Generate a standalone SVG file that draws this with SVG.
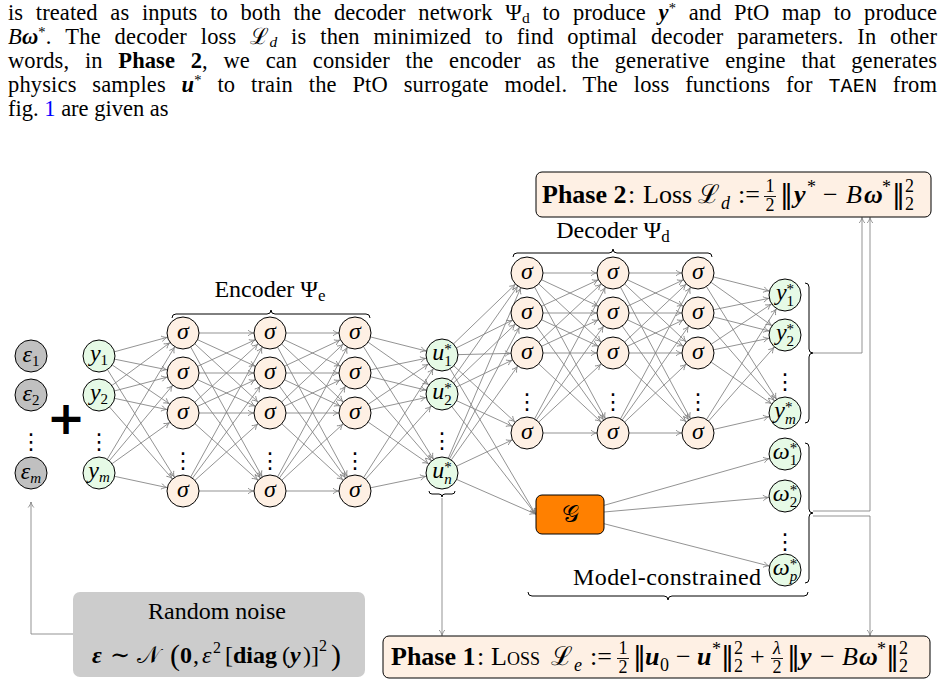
<svg xmlns="http://www.w3.org/2000/svg" width="945" height="685" viewBox="0 0 945 685">
<style>
.t{font-family:"Liberation Serif","DejaVu Serif",serif;fill:#000}
.i{font-style:italic}
.b{font-weight:bold}
.bi{font-weight:bold;font-style:italic}
.s{font-size:15px}
.nm{font-family:"DejaVu Sans",sans-serif;font-style:normal;font-weight:normal}
.lab{font-family:"Liberation Serif","DejaVu Serif",serif;font-size:24px;text-anchor:middle}
.dots{font-family:"DejaVu Sans",sans-serif;font-size:22px;text-anchor:middle}
.nd circle{stroke:#000;stroke-width:1}
.peach{fill:#FEF0E4}
.green{fill:#E6FAE6}
.grey{fill:#C0C0C0}
.brace{fill:none;stroke:#000;stroke-width:1}
.bx{stroke:#000;stroke-width:1}
</style>
<defs>
<marker id="ah" markerUnits="userSpaceOnUse" markerWidth="8" markerHeight="8" refX="16.5" refY="0" orient="auto" overflow="visible">
<path d="M-5.5,-2.8 C-3.6,-1.2 -1.6,-0.3 0,0 C-1.6,0.3 -3.6,1.2 -5.5,2.8" fill="none" stroke="#808080" stroke-width="0.85"/>
</marker>
<marker id="a0" markerUnits="userSpaceOnUse" markerWidth="8" markerHeight="8" refX="0" refY="0" orient="auto" overflow="visible">
<path d="M-5.5,-2.8 C-3.6,-1.2 -1.6,-0.3 0,0 C-1.6,0.3 -3.6,1.2 -5.5,2.8" fill="none" stroke="#808080" stroke-width="0.85"/>
</marker>
</defs>
<rect width="945" height="685" fill="#fff"/>

<g id="paragraph" class="t" font-size="22.5">
<text x="8" y="20" word-spacing="7" textLength="929" lengthAdjust="spacing">is treated as inputs to both the decoder network Ψ<tspan font-size="15.5" dy="3">d</tspan><tspan dy="-3"> to produce </tspan><tspan class="bi">y</tspan><tspan font-size="14.5" dy="-7">*</tspan><tspan dy="7"> and PtO map to produce</tspan></text>
<text x="8" y="44" word-spacing="8" textLength="929" lengthAdjust="spacing"><tspan class="i">B</tspan><tspan class="bi">ω</tspan><tspan font-size="14.5" dy="-7">*</tspan><tspan dy="7">. The decoder loss </tspan><tspan>ℒ</tspan><tspan class="i" font-size="15.5" dy="3">d</tspan><tspan dy="-3"> is then minimized to find optimal decoder parameters. In other</tspan></text>
<text x="8" y="68" word-spacing="10" textLength="929" lengthAdjust="spacing">words, in <tspan class="b">Phase 2</tspan>, we can consider the encoder as the generative engine that generates</text>
<text x="8" y="92" word-spacing="10" textLength="929" lengthAdjust="spacing">physics samples <tspan class="bi">u</tspan><tspan font-size="14.5" dy="-7">*</tspan><tspan dy="7"> to train the PtO surrogate model.  The loss functions for </tspan><tspan font-family="Liberation Mono,monospace" font-size="20">TAEN</tspan> from</text>
<text x="8" y="116">fig. <tspan fill="#0000FF">1</tspan> are given as</text>
</g>

<g id="connectors" fill="none" stroke="#808080" stroke-width="0.85">
<g marker-end="url(#ah)">
<line x1="99" y1="356" x2="183" y2="333"/><line x1="99" y1="356" x2="183" y2="373"/><line x1="99" y1="356" x2="183" y2="413"/><line x1="99" y1="356" x2="183" y2="491"/>
<line x1="99" y1="395" x2="183" y2="333"/><line x1="99" y1="395" x2="183" y2="373"/><line x1="99" y1="395" x2="183" y2="413"/><line x1="99" y1="395" x2="183" y2="491"/>
<line x1="99" y1="473" x2="183" y2="333"/><line x1="99" y1="473" x2="183" y2="373"/><line x1="99" y1="473" x2="183" y2="413"/><line x1="99" y1="473" x2="183" y2="491"/>

<line x1="183" y1="333" x2="270" y2="333"/><line x1="183" y1="333" x2="270" y2="373"/><line x1="183" y1="333" x2="270" y2="413"/><line x1="183" y1="333" x2="270" y2="491"/>
<line x1="183" y1="373" x2="270" y2="333"/><line x1="183" y1="373" x2="270" y2="373"/><line x1="183" y1="373" x2="270" y2="413"/><line x1="183" y1="373" x2="270" y2="491"/>
<line x1="183" y1="413" x2="270" y2="333"/><line x1="183" y1="413" x2="270" y2="373"/><line x1="183" y1="413" x2="270" y2="413"/><line x1="183" y1="413" x2="270" y2="491"/>
<line x1="183" y1="491" x2="270" y2="333"/><line x1="183" y1="491" x2="270" y2="373"/><line x1="183" y1="491" x2="270" y2="413"/><line x1="183" y1="491" x2="270" y2="491"/>

<line x1="270" y1="333" x2="355" y2="333"/><line x1="270" y1="333" x2="355" y2="373"/><line x1="270" y1="333" x2="355" y2="413"/><line x1="270" y1="333" x2="355" y2="491"/>
<line x1="270" y1="373" x2="355" y2="333"/><line x1="270" y1="373" x2="355" y2="373"/><line x1="270" y1="373" x2="355" y2="413"/><line x1="270" y1="373" x2="355" y2="491"/>
<line x1="270" y1="413" x2="355" y2="333"/><line x1="270" y1="413" x2="355" y2="373"/><line x1="270" y1="413" x2="355" y2="413"/><line x1="270" y1="413" x2="355" y2="491"/>
<line x1="270" y1="491" x2="355" y2="333"/><line x1="270" y1="491" x2="355" y2="373"/><line x1="270" y1="491" x2="355" y2="413"/><line x1="270" y1="491" x2="355" y2="491"/>

<line x1="355" y1="333" x2="442" y2="355"/><line x1="355" y1="333" x2="442" y2="394"/><line x1="355" y1="333" x2="442" y2="473"/>
<line x1="355" y1="373" x2="442" y2="355"/><line x1="355" y1="373" x2="442" y2="394"/><line x1="355" y1="373" x2="442" y2="473"/>
<line x1="355" y1="413" x2="442" y2="355"/><line x1="355" y1="413" x2="442" y2="394"/><line x1="355" y1="413" x2="442" y2="473"/>
<line x1="355" y1="491" x2="442" y2="355"/><line x1="355" y1="491" x2="442" y2="394"/><line x1="355" y1="491" x2="442" y2="473"/>

<line x1="442" y1="355" x2="527" y2="273"/><line x1="442" y1="355" x2="527" y2="313"/><line x1="442" y1="355" x2="527" y2="353"/><line x1="442" y1="355" x2="527" y2="433"/>
<line x1="442" y1="394" x2="527" y2="273"/><line x1="442" y1="394" x2="527" y2="313"/><line x1="442" y1="394" x2="527" y2="353"/><line x1="442" y1="394" x2="527" y2="433"/>
<line x1="442" y1="473" x2="527" y2="273"/><line x1="442" y1="473" x2="527" y2="313"/><line x1="442" y1="473" x2="527" y2="353"/><line x1="442" y1="473" x2="527" y2="433"/>

<line x1="527" y1="273" x2="613" y2="273"/><line x1="527" y1="273" x2="613" y2="313"/><line x1="527" y1="273" x2="613" y2="353"/><line x1="527" y1="273" x2="613" y2="433"/>
<line x1="527" y1="313" x2="613" y2="273"/><line x1="527" y1="313" x2="613" y2="313"/><line x1="527" y1="313" x2="613" y2="353"/><line x1="527" y1="313" x2="613" y2="433"/>
<line x1="527" y1="353" x2="613" y2="273"/><line x1="527" y1="353" x2="613" y2="313"/><line x1="527" y1="353" x2="613" y2="353"/><line x1="527" y1="353" x2="613" y2="433"/>
<line x1="527" y1="433" x2="613" y2="273"/><line x1="527" y1="433" x2="613" y2="313"/><line x1="527" y1="433" x2="613" y2="353"/><line x1="527" y1="433" x2="613" y2="433"/>

<line x1="613" y1="273" x2="698" y2="273"/><line x1="613" y1="273" x2="698" y2="313"/><line x1="613" y1="273" x2="698" y2="353"/><line x1="613" y1="273" x2="698" y2="433"/>
<line x1="613" y1="313" x2="698" y2="273"/><line x1="613" y1="313" x2="698" y2="313"/><line x1="613" y1="313" x2="698" y2="353"/><line x1="613" y1="313" x2="698" y2="433"/>
<line x1="613" y1="353" x2="698" y2="273"/><line x1="613" y1="353" x2="698" y2="313"/><line x1="613" y1="353" x2="698" y2="353"/><line x1="613" y1="353" x2="698" y2="433"/>
<line x1="613" y1="433" x2="698" y2="273"/><line x1="613" y1="433" x2="698" y2="313"/><line x1="613" y1="433" x2="698" y2="353"/><line x1="613" y1="433" x2="698" y2="433"/>

<line x1="698" y1="273" x2="785" y2="295"/><line x1="698" y1="273" x2="785" y2="335"/><line x1="698" y1="273" x2="785" y2="413"/>
<line x1="698" y1="313" x2="785" y2="295"/><line x1="698" y1="313" x2="785" y2="335"/><line x1="698" y1="313" x2="785" y2="413"/>
<line x1="698" y1="353" x2="785" y2="295"/><line x1="698" y1="353" x2="785" y2="335"/><line x1="698" y1="353" x2="785" y2="413"/>
<line x1="698" y1="433" x2="785" y2="295"/><line x1="698" y1="433" x2="785" y2="335"/><line x1="698" y1="433" x2="785" y2="413"/>

<line x1="570" y1="515" x2="785" y2="454"/><line x1="570" y1="515" x2="785" y2="496"/><line x1="570" y1="515" x2="785" y2="570"/>
</g>
<g marker-end="url(#a0)">
<line x1="442" y1="355" x2="535.5" y2="514"/><line x1="442" y1="394" x2="535.5" y2="514"/><line x1="442" y1="473" x2="535.5" y2="514"/>
<path d="M813,353 H862 V217.5"/>
<path d="M813,511 H870 V217.5"/>
<path d="M813,516 H870 V635.5"/>
<path d="M442,498 V635.5"/>
<path d="M73,634 H31 V502"/>
</g>
</g>

<g id="braces" class="brace">
<path d="M172,318 Q172,314 176,314 L267,314 Q271,314 271,310 Q271,314 275,314 L366,314 Q370,314 370,318"/>
<path d="M513,257 Q513,253 517,253 L609,253 Q613,253 613,249 Q613,253 617,253 L708,253 Q712,253 712,257"/>
<path d="M805,283 Q809,283 809,287 L809,349 Q809,353 813,353 Q809,353 809,357 L809,419 Q809,423 805,423"/>
<path d="M805,443 Q809,443 809,447 L809,509 Q809,513 813,513 Q809,513 809,517 L809,579 Q809,583 805,583"/>
<path d="M528,592 Q528,596 532,596 L664,596 Q668,596 668,600 Q668,596 672,596 L804,596 Q808,596 808,592"/>
<path d="M429,491 Q429,494 432,494 L439,494 Q442,494 442,497 Q442,494 445,494 L452,494 Q455,494 455,491"/>
</g>

<g id="labels" class="t" font-size="24">
<text x="270" y="297" text-anchor="middle">Encoder Ψ<tspan font-size="17" dy="4">e</tspan></text>
<text x="613" y="238" text-anchor="middle">Decoder Ψ<tspan font-size="17" dy="4">d</tspan></text>
<text x="761" y="585" text-anchor="end" textLength="188" lengthAdjust="spacing">Model-constrained</text>
</g>

<g id="plus"><text x="66" y="434" font-family="DejaVu Sans,sans-serif" font-weight="bold" font-size="46" text-anchor="middle">+</text></g>

<g id="noise-nodes" class="nd">
<g id="eps1"><circle cx="31" cy="356" r="16" class="grey"/><text class="lab" x="31" y="362"><tspan class="i">ε</tspan><tspan class="s" dy="4">1</tspan></text></g>
<g id="eps2"><circle cx="31" cy="395" r="16" class="grey"/><text class="lab" x="31" y="401"><tspan class="i">ε</tspan><tspan class="s" dy="4">2</tspan></text></g>
<g id="epsm"><circle cx="31" cy="473" r="16" class="grey"/><text class="lab" x="31" y="479"><tspan class="i">ε</tspan><tspan class="s i" dy="4">m</tspan></text></g>
<text class="dots" x="31" y="449">⋮</text>
</g>

<g id="input-nodes" class="nd">
<g id="y1"><circle cx="99" cy="356" r="16" class="green"/><text class="lab" x="99" y="361"><tspan class="i">y</tspan><tspan class="s" dy="4">1</tspan></text></g>
<g id="y2"><circle cx="99" cy="395" r="16" class="green"/><text class="lab" x="99" y="400"><tspan class="i">y</tspan><tspan class="s" dy="4">2</tspan></text></g>
<g id="ym"><circle cx="99" cy="473" r="16" class="green"/><text class="lab" x="99" y="478"><tspan class="i">y</tspan><tspan class="s i" dy="4">m</tspan></text></g>
<text class="dots" x="99" y="449">⋮</text>
</g>

<g id="encoder" class="nd">
<g id="e11"><circle cx="183" cy="333" r="16" class="peach"/><text class="lab i" x="183" y="339">σ</text></g>
<g id="e12"><circle cx="183" cy="373" r="16" class="peach"/><text class="lab i" x="183" y="379">σ</text></g>
<g id="e13"><circle cx="183" cy="413" r="16" class="peach"/><text class="lab i" x="183" y="419">σ</text></g>
<g id="e14"><circle cx="183" cy="491" r="16" class="peach"/><text class="lab i" x="183" y="497">σ</text></g>
<g id="e21"><circle cx="270" cy="333" r="16" class="peach"/><text class="lab i" x="270" y="339">σ</text></g>
<g id="e22"><circle cx="270" cy="373" r="16" class="peach"/><text class="lab i" x="270" y="379">σ</text></g>
<g id="e23"><circle cx="270" cy="413" r="16" class="peach"/><text class="lab i" x="270" y="419">σ</text></g>
<g id="e24"><circle cx="270" cy="491" r="16" class="peach"/><text class="lab i" x="270" y="497">σ</text></g>
<g id="e31"><circle cx="355" cy="333" r="16" class="peach"/><text class="lab i" x="355" y="339">σ</text></g>
<g id="e32"><circle cx="355" cy="373" r="16" class="peach"/><text class="lab i" x="355" y="379">σ</text></g>
<g id="e33"><circle cx="355" cy="413" r="16" class="peach"/><text class="lab i" x="355" y="419">σ</text></g>
<g id="e34"><circle cx="355" cy="491" r="16" class="peach"/><text class="lab i" x="355" y="497">σ</text></g>
<text class="dots" x="183" y="468">⋮</text><text class="dots" x="270" y="468">⋮</text><text class="dots" x="355" y="468">⋮</text>
</g>

<g id="latent" class="nd">
<g id="u1"><circle cx="442" cy="355" r="16" class="green"/><text class="lab" x="442" y="360"><tspan class="i">u</tspan><tspan class="s" dy="-6">*</tspan><tspan class="s" dx="-7.5" dy="12">1</tspan></text></g>
<g id="u2"><circle cx="442" cy="394" r="16" class="green"/><text class="lab" x="442" y="399"><tspan class="i">u</tspan><tspan class="s" dy="-6">*</tspan><tspan class="s" dx="-7.5" dy="12">2</tspan></text></g>
<g id="un"><circle cx="442" cy="473" r="16" class="green"/><text class="lab" x="442" y="478"><tspan class="i">u</tspan><tspan class="s" dy="-6">*</tspan><tspan class="s i" dx="-7.5" dy="12">n</tspan></text></g>
<text class="dots" x="442" y="448">⋮</text>
</g>

<g id="decoder" class="nd">
<g id="d11"><circle cx="527" cy="273" r="16" class="peach"/><text class="lab i" x="527" y="279">σ</text></g>
<g id="d12"><circle cx="527" cy="313" r="16" class="peach"/><text class="lab i" x="527" y="319">σ</text></g>
<g id="d13"><circle cx="527" cy="353" r="16" class="peach"/><text class="lab i" x="527" y="359">σ</text></g>
<g id="d14"><circle cx="527" cy="433" r="16" class="peach"/><text class="lab i" x="527" y="439">σ</text></g>
<g id="d21"><circle cx="613" cy="273" r="16" class="peach"/><text class="lab i" x="613" y="279">σ</text></g>
<g id="d22"><circle cx="613" cy="313" r="16" class="peach"/><text class="lab i" x="613" y="319">σ</text></g>
<g id="d23"><circle cx="613" cy="353" r="16" class="peach"/><text class="lab i" x="613" y="359">σ</text></g>
<g id="d24"><circle cx="613" cy="433" r="16" class="peach"/><text class="lab i" x="613" y="439">σ</text></g>
<g id="d31"><circle cx="698" cy="273" r="16" class="peach"/><text class="lab i" x="698" y="279">σ</text></g>
<g id="d32"><circle cx="698" cy="313" r="16" class="peach"/><text class="lab i" x="698" y="319">σ</text></g>
<g id="d33"><circle cx="698" cy="353" r="16" class="peach"/><text class="lab i" x="698" y="359">σ</text></g>
<g id="d34"><circle cx="698" cy="433" r="16" class="peach"/><text class="lab i" x="698" y="439">σ</text></g>
<text class="dots" x="527" y="409">⋮</text><text class="dots" x="613" y="409">⋮</text><text class="dots" x="698" y="409">⋮</text>
</g>

<g id="outputs" class="nd">
<g id="ys1"><circle cx="785" cy="295" r="16" class="green"/><text class="lab" x="785" y="300"><tspan class="i">y</tspan><tspan class="s" dy="-6">*</tspan><tspan class="s" dx="-7.5" dy="12">1</tspan></text></g>
<g id="ys2"><circle cx="785" cy="335" r="16" class="green"/><text class="lab" x="785" y="340"><tspan class="i">y</tspan><tspan class="s" dy="-6">*</tspan><tspan class="s" dx="-7.5" dy="12">2</tspan></text></g>
<g id="ysm"><circle cx="785" cy="413" r="16" class="green"/><text class="lab" x="785" y="418"><tspan class="i">y</tspan><tspan class="s" dy="-6">*</tspan><tspan class="s i" dx="-7.5" dy="12">m</tspan></text></g>
<text class="dots" x="785" y="389">⋮</text>
<g id="w1"><circle cx="785" cy="454" r="16" class="green"/><text class="lab" x="785" y="459"><tspan class="i">ω</tspan><tspan class="s" dy="-6">*</tspan><tspan class="s" dx="-7.5" dy="12">1</tspan></text></g>
<g id="w2"><circle cx="785" cy="496" r="16" class="green"/><text class="lab" x="785" y="501"><tspan class="i">ω</tspan><tspan class="s" dy="-6">*</tspan><tspan class="s" dx="-7.5" dy="12">2</tspan></text></g>
<g id="wp"><circle cx="785" cy="570" r="16" class="green"/><text class="lab" x="785" y="575"><tspan class="i">ω</tspan><tspan class="s" dy="-6">*</tspan><tspan class="s i" dx="-7.5" dy="12">p</tspan></text></g>
<text class="dots" x="785" y="549">⋮</text>
</g>

<g id="G"><rect x="536" y="495" width="68" height="39" rx="6" fill="#FF8000" class="bx"/><text class="lab" x="570" y="522">𝒢</text></g>

<g id="noise-box"><rect x="73" y="592" width="292" height="85" rx="7" fill="#CCCCCC"/>
<text class="lab" x="217" y="619">Random noise</text>
<text class="t" font-size="24" y="663"><tspan class="bi" x="92">ε</tspan><tspan x="110">∼</tspan><tspan x="137">𝒩</tspan><tspan x="170" font-size="30" dy="2">(</tspan><tspan class="b" x="180" dy="-2">0</tspan><tspan x="193">,</tspan><tspan class="i" x="202">ε</tspan><tspan x="213" font-size="16" dy="-10">2</tspan><tspan x="225" dy="10">[</tspan><tspan class="b" x="233">diag</tspan><tspan x="282">(</tspan><tspan class="bi" x="290">y</tspan><tspan x="303">)</tspan><tspan x="311">]</tspan><tspan x="319" font-size="16" dy="-12">2</tspan><tspan x="331" font-size="30" dy="14">)</tspan></text>
</g>

<g id="phase2"><rect x="536" y="172" width="395" height="45" rx="6" class="bx" fill="#FEF0E4"/>
<text class="t" font-size="26" y="203"><tspan class="b" x="542">Phase 2</tspan><tspan x="628">:</tspan><tspan x="643">Loss</tspan><tspan x="698">ℒ</tspan><tspan class="i" font-size="18" x="721" dy="6">d</tspan><tspan x="738" dy="-6">:=</tspan><tspan class="nm" x="780">‖</tspan><tspan class="bi" x="794">y</tspan><tspan font-size="18" x="807" dy="-10">*</tspan><tspan x="823" dy="10">−</tspan><tspan class="i" x="846">B</tspan><tspan class="bi" x="864">ω</tspan><tspan font-size="18" x="882" dy="-10">*</tspan><tspan class="nm" x="892" dy="10">‖</tspan><tspan font-size="18" x="905" dy="-11">2</tspan><tspan font-size="18" x="905" dy="18">2</tspan></text>
<text class="t" font-size="18" text-anchor="middle"><tspan x="770" y="192">1</tspan><tspan x="770" y="211">2</tspan></text>
<line x1="764" y1="196.5" x2="776" y2="196.5" stroke="#000" stroke-width="0.9"/>
</g>

<g id="phase1"><rect x="383" y="636" width="547" height="42" rx="6" class="bx" fill="#FEF0E4"/>
<text class="t" font-size="26" y="665"><tspan class="b" x="391">Phase 1</tspan><tspan x="477">:</tspan><tspan x="491" font-variant="small-caps">Loss</tspan><tspan x="551">ℒ</tspan><tspan class="i" font-size="18" x="574" dy="6">e</tspan><tspan x="590" dy="-6">:=</tspan><tspan class="nm" x="633">‖</tspan><tspan class="bi" x="645">u</tspan><tspan font-size="18" x="660" dy="6">0</tspan><tspan x="676" dy="-6">−</tspan><tspan class="bi" x="697">u</tspan><tspan font-size="18" x="712" dy="-10">*</tspan><tspan class="nm" x="721" dy="10">‖</tspan><tspan font-size="18" x="734" dy="-11">2</tspan><tspan font-size="18" x="734" dy="18">2</tspan><tspan x="750" dy="-7">+</tspan><tspan class="nm" x="787">‖</tspan><tspan class="bi" x="800">y</tspan><tspan x="820">−</tspan><tspan class="i" x="842">B</tspan><tspan class="bi" x="859">ω</tspan><tspan font-size="18" x="877" dy="-10">*</tspan><tspan class="nm" x="886" dy="10">‖</tspan><tspan font-size="18" x="899" dy="-11">2</tspan><tspan font-size="18" x="899" dy="18">2</tspan></text>
<text class="t" font-size="18" text-anchor="middle"><tspan x="623" y="654">1</tspan><tspan x="623" y="673">2</tspan><tspan class="i" x="777" y="654">λ</tspan><tspan x="777" y="673">2</tspan></text>
<line x1="617" y1="658.5" x2="629" y2="658.5" stroke="#000" stroke-width="0.9"/>
<line x1="771" y1="658.5" x2="783" y2="658.5" stroke="#000" stroke-width="0.9"/>
</g>
</svg>
